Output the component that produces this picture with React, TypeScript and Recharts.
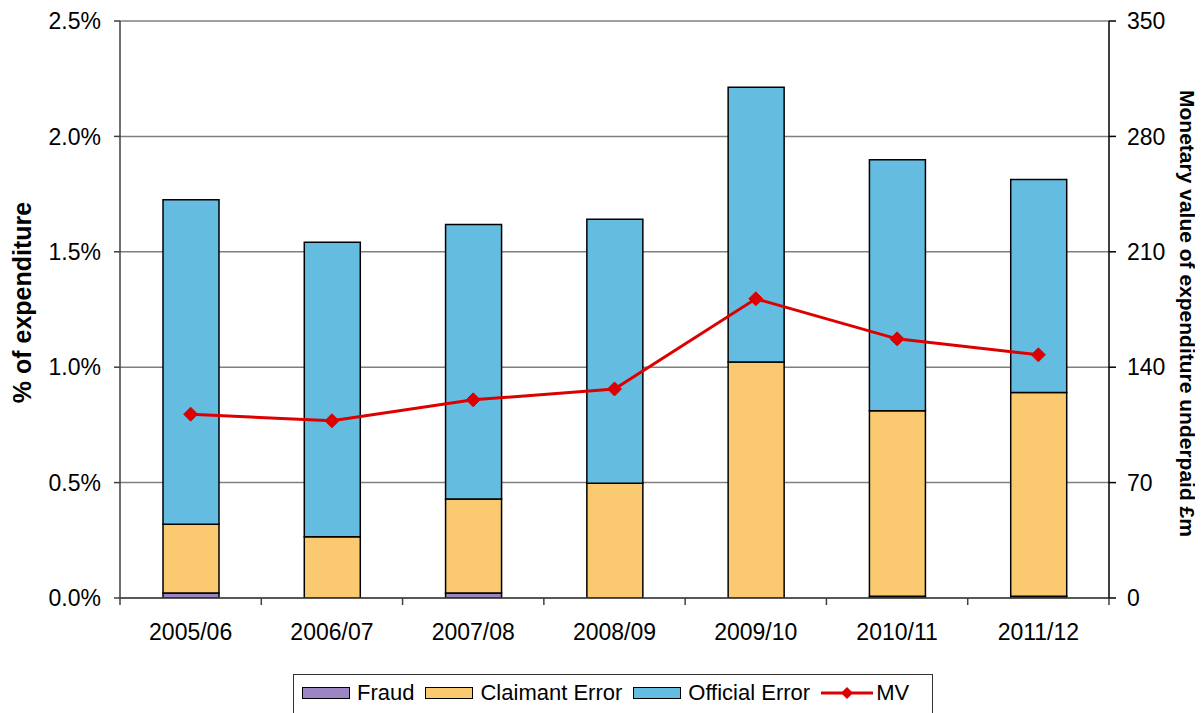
import React from 'react';
import {
  ComposedChart,
  Bar,
  Line,
  XAxis,
  YAxis,
  CartesianGrid,
  Label,
} from 'recharts';

const categories = ['2005/06', '2006/07', '2007/08', '2008/09', '2009/10', '2010/11', '2011/12'];
const fraud = [0.022, 0, 0.022, 0, 0, 0.008, 0.008];
const claimantError = [0.298, 0.265, 0.407, 0.497, 1.023, 0.803, 0.882];
const officialError = [1.406, 1.276, 1.189, 1.144, 1.19, 1.088, 0.923];
const mv = [111.5, 107.5, 120.2, 126.8, 181.5, 157.2, 147.5];

const pctTicks = [0, 0.5, 1, 1.5, 2, 2.5];
const mvTicks = [0, 70, 140, 210, 280, 350];

const data = categories.map((year, i) => ({
  year,
  fraud: fraud[i],
  claimant: claimantError[i],
  official: officialError[i],
  mv: mv[i],
}));

const FONT = '"Liberation Sans", Arial, sans-serif';
const HALF_BAND = 989 / 7 / 2;

const COLORS = {
  fraud: '#9B86C3',
  claimant: '#FBC970',
  official: '#64BDE0',
  mv: '#DD0000',
};

function XTick(props: any) {
  const { x, y, payload, index } = props;
  const last = index === categories.length - 1;
  return (
    <g>
      <line x1={x - HALF_BAND} y1={y} x2={x - HALF_BAND} y2={y + 7} stroke="#404040" strokeWidth={1.5} />
      {last && (
        <line x1={x + HALF_BAND} y1={y} x2={x + HALF_BAND} y2={y + 7} stroke="#404040" strokeWidth={1.5} />
      )}
      <text x={x} y={y + 42} textAnchor="middle" fontSize={23} fontFamily={FONT} fill="#000">
        {payload.value}
      </text>
    </g>
  );
}

function Diamond(props: any) {
  const { cx, cy } = props;
  if (cx == null || cy == null) return null;
  const r = 7;
  return (
    <polygon
      points={`${cx},${cy - r} ${cx + r},${cy} ${cx},${cy + r} ${cx - r},${cy}`}
      fill={COLORS.mv}
      stroke={COLORS.mv}
    />
  );
}

function Swatch({ color }: { color: string }) {
  return (
    <span
      style={{
        display: 'inline-block',
        width: 46,
        height: 10,
        background: color,
        border: '1.5px solid #000',
        marginRight: 7,
      }}
    />
  );
}

function ChartLegend() {
  const item = { display: 'flex', alignItems: 'center', marginRight: 11 } as const;
  return (
    <div
      style={{
        position: 'absolute',
        left: 285,
        top: 666,
        width: 640,
        height: 46,
        border: '1px solid #333',
        display: 'flex',
        alignItems: 'flex-start',
        paddingLeft: 8,
        paddingTop: 5,
        boxSizing: 'border-box',
        fontFamily: FONT,
        fontSize: 22,
        color: '#000',
      }}
    >
      <div style={item}>
        <Swatch color={COLORS.fraud} />
        Fraud
      </div>
      <div style={item}>
        <Swatch color={COLORS.claimant} />
        Claimant Error
      </div>
      <div style={item}>
        <Swatch color={COLORS.official} />
        Official Error
      </div>
      <div style={item}>
        <svg width={52} height={16} style={{ marginRight: 3 }}>
          <line x1={0} y1={8} x2={52} y2={8} stroke={COLORS.mv} strokeWidth={3} />
          <polygon points="26,2 32,8 26,14 20,8" fill={COLORS.mv} />
        </svg>
        MV
      </div>
    </div>
  );
}

export default function App() {
  return (
    <div style={{ position: 'relative', width: 1195, height: 705 }}>
      <ComposedChart
        width={1195}
        height={665}
        data={data}
        margin={{ top: 13, right: 0, bottom: 0, left: 0 }}
      >
        <CartesianGrid yAxisId="left" vertical={false} stroke="#7f7f7f" strokeWidth={1.5} />
        <XAxis
          dataKey="year"
          xAxisId={0}
          height={75}
          tickLine={false}
          tickSize={0}
          tickMargin={0}
          axisLine={{ stroke: '#404040', strokeWidth: 1.5 }}
          tick={<XTick />}
          interval={0}
        />
        <YAxis
          yAxisId="left"
          width={112}
          domain={[0, 2.5]}
          ticks={pctTicks}
          tickFormatter={(v: number) => `${v.toFixed(1)}%`}
          tick={{ fontSize: 23, fontFamily: FONT, fill: '#000' }}
          tickSize={6}
          tickMargin={13}
          tickLine={{ stroke: '#404040', strokeWidth: 1.5 }}
          axisLine={{ stroke: '#404040', strokeWidth: 1.5 }}
          allowDataOverflow
        >
          <Label
            content={(p: any) => {
              const vb = p.viewBox || { x: 0, y: 13, height: 577 };
              const cx = vb.x + 14;
              const cy = vb.y + vb.height / 2 - 7;
              return (
                <text
                  x={cx}
                  y={cy}
                  transform={`rotate(-90 ${cx} ${cy})`}
                  textAnchor="middle"
                  dominantBaseline="central"
                  fontSize={25}
                  fontWeight="bold"
                  fontFamily={FONT}
                  fill="#000"
                >
                  % of expenditure
                </text>
              );
            }}
          />
        </YAxis>
        <YAxis
          yAxisId="right"
          orientation="right"
          width={94}
          domain={[0, 350]}
          ticks={mvTicks}
          tick={{ fontSize: 23, fontFamily: FONT, fill: '#000', textAnchor: 'start' }}
          tickSize={7}
          tickMargin={11}
          tickLine={{ stroke: '#000', strokeWidth: 1.5 }}
          axisLine={{ stroke: '#000', strokeWidth: 1.5 }}
        >
          <Label
            content={(p: any) => {
              const vb = p.viewBox || { x: 1101, y: 13, height: 577 };
              const cx = vb.x + 78;
              const cy = vb.y + vb.height / 2 + 4;
              return (
                <text
                  x={cx}
                  y={cy}
                  transform={`rotate(90 ${cx} ${cy})`}
                  textAnchor="middle"
                  dominantBaseline="central"
                  fontSize={21}
                  fontWeight="bold"
                  fontFamily={FONT}
                  fill="#000"
                >
                  Monetary value of expenditure underpaid £m
                </text>
              );
            }}
          />
        </YAxis>
        <Bar yAxisId="left" dataKey="fraud" stackId="a" barSize={56} fill={COLORS.fraud} stroke="#000" strokeWidth={1.5} isAnimationActive={false} />
        <Bar yAxisId="left" dataKey="claimant" stackId="a" barSize={56} fill={COLORS.claimant} stroke="#000" strokeWidth={1.5} isAnimationActive={false} />
        <Bar yAxisId="left" dataKey="official" stackId="a" barSize={56} fill={COLORS.official} stroke="#000" strokeWidth={1.5} isAnimationActive={false} />
        <Line
          yAxisId="right"
          dataKey="mv"
          type="linear"
          stroke={COLORS.mv}
          strokeWidth={3}
          dot={<Diamond />}
          activeDot={false}
          isAnimationActive={false}
        />
      </ComposedChart>
      <ChartLegend />
    </div>
  );
}
